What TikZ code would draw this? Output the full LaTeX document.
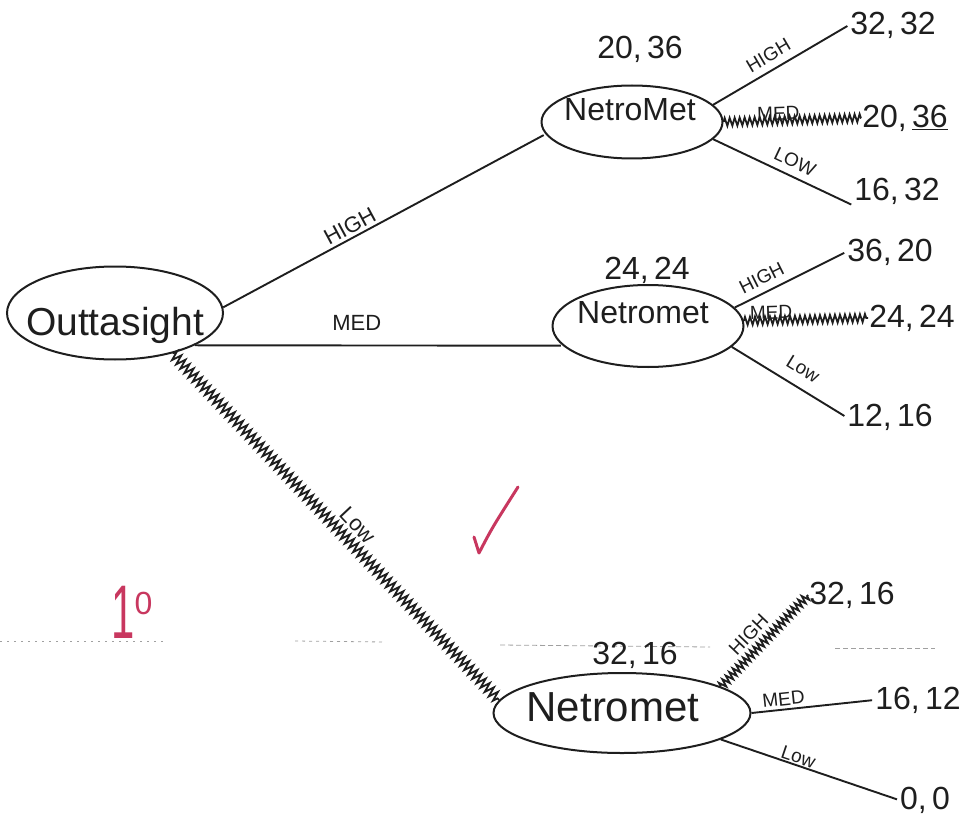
\documentclass[tikz,border=0pt]{standalone}
\usepackage{fontspec}
\setmainfont{Liberation Sans}
\usetikzlibrary{shapes.geometric,decorations.pathmorphing}
\definecolor{ink}{RGB}{30,30,30}
\definecolor{redpen}{RGB}{200,55,95}
\definecolor{ruleline}{RGB}{160,160,160}
\begin{document}
\begin{tikzpicture}[x=1pt,y=-1pt,
  decision/.style={ellipse,draw=ink,line width=2pt,inner sep=0pt},
  player/.style={text=ink,inner sep=0pt},
  branch/.style={draw=ink,line width=1.9pt,shorten >=2pt},
  chosen/.style={draw=ink,line width=1.8pt,decorate,
    decoration={zigzag,segment length=5pt,amplitude=4pt}},
  payoff/.style={text=ink,font=\fontsize{32}{32}\selectfont,inner sep=1pt},
  move/.style={text=ink,font=\fontsize{19}{19}\selectfont,inner sep=0pt,sloped},
  bigmove/.style={move,font=\fontsize{22}{22}\selectfont},
  grade/.style={redpen,line width=3pt,line cap=round,line join=round}
]
\useasboundingbox (0,0) rectangle (963,829);

% faint ruled line of the paper
\draw[ruleline,line width=0.8pt,dash pattern=on 2pt off 5pt] (0,641) -- (165,641);
\draw[ruleline,line width=0.8pt,dash pattern=on 3pt off 4pt] (295,641) -- (385,642);
\draw[ruleline,line width=0.8pt,dash pattern=on 5pt off 3pt] (500,645) -- (710,647);
\draw[ruleline,line width=0.8pt,dash pattern=on 5pt off 3pt] (835,648) -- (935,648);

% decision nodes
\node[decision,minimum width=216pt,minimum height=93pt] (root) at (115,313) {};
\node[player,font=\fontsize{39}{39}\selectfont] (rootname) at (115,325) {Outtasight};

\node[decision,minimum width=181pt,minimum height=73pt] (n1) at (632,122) {};
\node[player,font=\fontsize{32}{32}\selectfont] (n1name) at (630,110) {NetroMet};
\node[payoff] (v1) at (640,49) {20,\,36};

\node[decision,minimum width=191pt,minimum height=82pt] (n2) at (648,326) {};
\node[player,font=\fontsize{32}{32}\selectfont] (n2name) at (643,313) {Netromet};
\node[payoff] (v2) at (647,270) {24,\,24};

\node[decision,minimum width=257pt,minimum height=80pt] (n3) at (622,713) {};
\node[player,font=\fontsize{42}{42}\selectfont] (n3name) at (613,707) {Netromet};
\node[payoff] (v3) at (635,655) {32,\,16};

% terminal payoffs
\node[payoff] (l1) at (893,25)  {32,\,32};
\node[payoff] (l2) at (905,118) {20,\,\underline{36}};
\node[payoff] (l3) at (897,191) {16,\,32};
\node[payoff] (l4) at (890,252) {36,\,20};
\node[payoff] (l5) at (912,318) {24,\,24};
\node[payoff] (l6) at (890,417) {12,\,16};
\node[payoff] (l7) at (852,595) {32,\,16};
\node[payoff] (l8) at (918,700) {16,\,12};
\node[payoff] (l9) at (925,800) {0,\,0};

% first mover
\draw[branch] (root.3) -- node[bigmove,pos=.41,above=3pt] {HIGH} (n1.188);
\draw[branch] (root.-22) -- node[bigmove,pos=.44,above=14pt,sloped=false] {MED} (n2.193);
\draw[chosen,decoration={amplitude=5pt,segment length=6pt}] (root.-35) -- (n3.174);
\path (root.-35) -- node[bigmove,pos=.53,above=9pt] {Low} (n3.174);

% replies after HIGH
\draw[branch] (n1.12) -- node[move,pos=.46,above=7pt] {HIGH} (l1.west);
\draw[chosen] (n1.east) -- (l2.west);
\path (n1.east) -- node[move,pos=.4,above=0pt] {MED} (l2.west);
\draw[branch] (n1.-12) -- node[move,pos=.54,above=7pt] {LOW} (l3.south west);

% replies after MED
\draw[branch] (n2.12) -- node[move,pos=.3,above=7pt] {HIGH} (l4.west);
\draw[chosen] (n2.3) -- (l5.west);
\path (n2.3) -- node[move,pos=.22,above=1pt] {MED} (l5.west);
\draw[branch] (n2.-14) -- node[move,pos=.54,above=11pt] {Low} (l6.west);

% replies after Low
\draw[chosen] (n3.15) -- (l7.west);
\path (n3.15) -- node[move,pos=.45,above=9pt] {HIGH} (l7.west);
\draw[branch] (n3.east) -- node[move,pos=.27,above=3pt] {MED} (l8.west);
\draw[branch] (n3.-15) -- node[move,pos=.42,above=1pt] {Low} (l9.west);

% grader's marks
\draw[grade] (474,537) -- (479,553) .. controls (492,528) .. (518,487);
\node[text=redpen,inner sep=0pt] (score) at (132,612)
  {\scalebox{0.55}[1]{\fontsize{76}{76}\selectfont 1}\raisebox{24pt}{\fontsize{32}{32}\selectfont 0}};
\end{tikzpicture}
\end{document}
